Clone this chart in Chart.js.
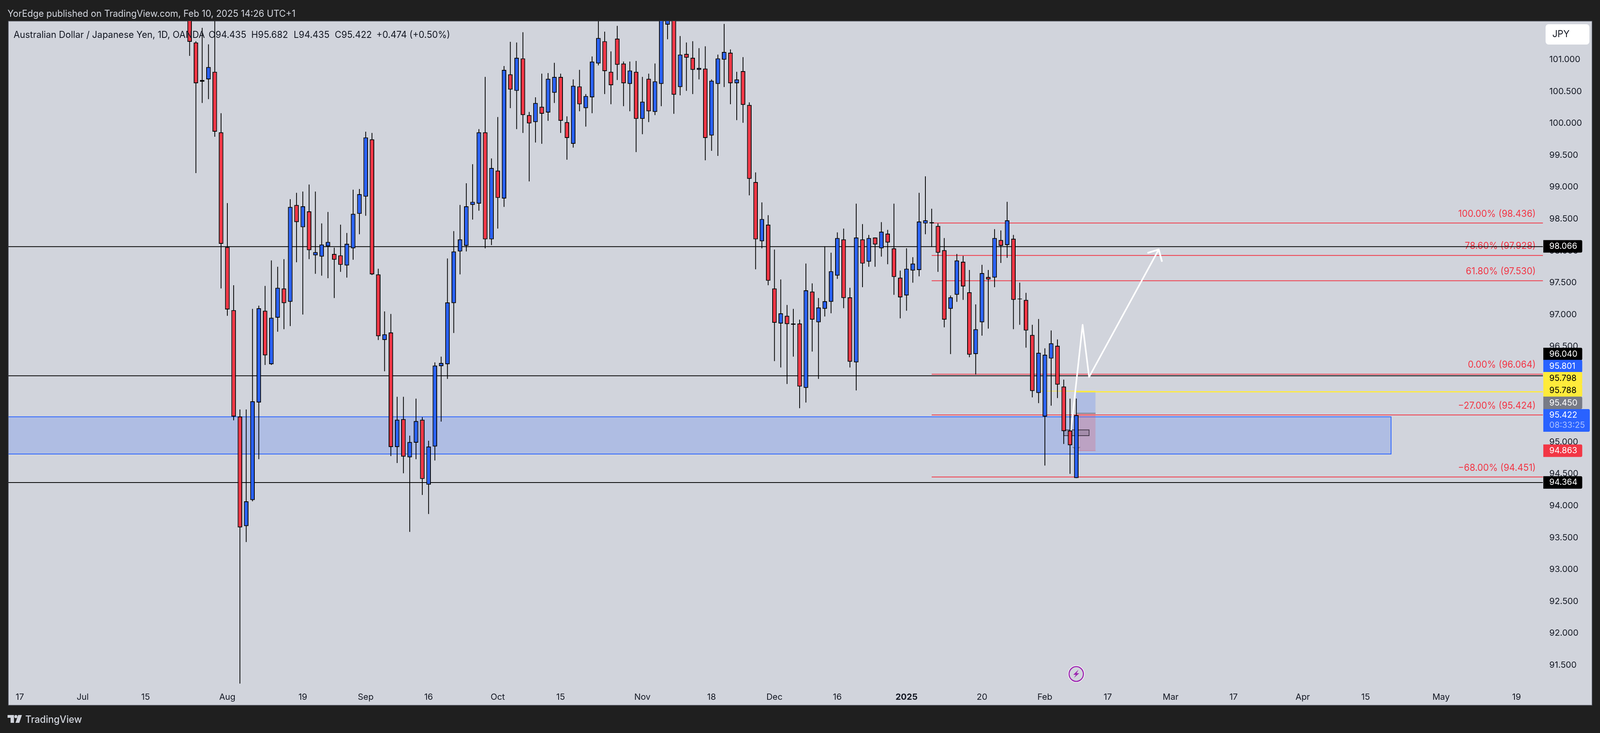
<!DOCTYPE html>
<html><head><meta charset="utf-8"><title>AUD/JPY</title>
<style>html,body{margin:0;padding:0;background:#1f1f1f;overflow:hidden}canvas{display:block}</style>
<script src="https://cdn.jsdelivr.net/npm/chart.js@4"></script>
</head><body><canvas id="c"></canvas>
<script>
const dates=["Jul 24","Jul 25","Jul 26","Jul 29","Jul 30","Jul 31",
"Aug 1","Aug 2","Aug 5","Aug 6","Aug 7","Aug 8","Aug 9","Aug 12","Aug 13","Aug 14","Aug 15","Aug 16","Aug 19","Aug 20","Aug 21","Aug 22","Aug 23","Aug 26","Aug 27","Aug 28","Aug 29","Aug 30",
"Sep 2","Sep 3","Sep 4","Sep 5","Sep 6","Sep 9","Sep 10","Sep 11","Sep 12","Sep 13","Sep 16","Sep 17","Sep 18","Sep 19","Sep 20","Sep 23","Sep 24","Sep 25","Sep 26","Sep 27","Sep 30",
"Oct 1","Oct 2","Oct 3","Oct 4","Oct 7","Oct 8","Oct 9","Oct 10","Oct 11","Oct 14","Oct 15","Oct 16","Oct 17","Oct 18","Oct 21","Oct 22","Oct 23","Oct 24","Oct 25","Oct 28","Oct 29","Oct 30","Oct 31",
"Nov 1","Nov 4","Nov 5","Nov 6","Nov 7","Nov 8","Nov 11","Nov 12","Nov 13","Nov 14","Nov 15","Nov 18","Nov 19","Nov 20","Nov 21","Nov 22","Nov 25","Nov 26","Nov 27","Nov 28","Nov 29",
"Dec 2","Dec 3","Dec 4","Dec 5","Dec 6","Dec 9","Dec 10","Dec 11","Dec 12","Dec 13","Dec 16","Dec 17","Dec 18","Dec 19","Dec 20","Dec 23","Dec 24","Dec 26","Dec 27","Dec 30","Dec 31",
"Jan 2","Jan 3","Jan 6","Jan 7","Jan 8","Jan 9","Jan 10","Jan 13","Jan 14","Jan 15","Jan 16","Jan 17","Jan 20","Jan 21","Jan 22","Jan 23","Jan 24","Jan 27","Jan 28","Jan 29","Jan 30","Jan 31",
"Feb 3","Feb 4","Feb 5","Feb 6","Feb 7","Feb 10"];
const opens=[101.95,101.27,100.655,100.69,100.81,99.86,98.06,97.07,95.40,93.68,94.09,95.62,97.06,96.22,96.95,97.41,97.20,98.72,98.37,98.62,
97.93,97.91,98.07,97.95,97.93,97.77,98.04,98.58,98.85,99.75,97.63,96.60,96.72,94.92,95.36,94.76,94.99,95.35,94.33,94.93,
96.19,96.22,97.18,97.99,98.08,98.72,98.74,99.86,98.18,99.26,98.82,100.77,100.51,101.02,100.13,100.02,100.26,100.17,100.48,100.73,
100.02,99.68,100.58,100.24,100.41,100.94,101.29,100.81,101.33,100.94,100.62,100.81,100.07,100.70,100.18,100.62,101.55,101.90,100.57,101.09,
101.03,100.84,100.86,99.81,100.62,101.00,101.11,100.63,100.82,100.29,99.08,98.15,98.41,97.41,96.86,96.98,96.84,96.86,95.85,97.36,
96.88,97.09,97.20,97.61,98.18,97.27,96.25,98.18,97.83,98.21,98.04,98.27,98.04,97.58,97.30,97.69,97.70,98.43,98.45,98.39,
98.01,97.09,97.31,97.83,97.35,96.38,96.88,97.59,97.58,98.17,98.09,98.19,97.24,97.23,96.68,95.77,95.40,96.31,96.51,95.87,95.18,94.435];
const highs=[102.20,101.29,101.50,101.24,101.75,100.16,98.75,97.46,95.51,95.51,97.09,97.14,97.45,97.85,97.75,97.87,98.81,98.91,98.93,99.04,
98.93,98.43,98.61,98.05,98.41,98.28,98.96,98.97,99.87,99.85,97.72,97.05,97.01,95.71,95.71,95.10,95.68,95.39,95.02,96.25,
96.34,97.88,98.31,98.72,99.06,99.36,99.91,100.73,99.45,100.10,100.90,101.28,101.27,101.43,100.18,100.41,100.78,100.79,100.95,100.78,
100.11,100.69,100.84,100.46,101.05,101.70,101.44,101.13,101.53,100.97,100.97,100.98,100.73,100.78,100.94,102.05,101.90,102.00,101.37,101.27,
101.29,101.18,101.21,100.69,101.08,101.56,101.16,100.81,101.04,100.33,99.23,98.76,98.56,98.02,97.55,97.15,97.09,96.92,97.80,97.49,
97.26,98.07,97.97,98.29,98.35,97.42,98.74,98.42,98.25,98.21,98.45,98.33,98.74,97.69,98.04,97.90,98.91,99.17,98.66,98.43,
98.20,97.30,97.95,97.92,97.70,97.16,97.78,97.70,98.34,98.32,98.77,98.25,97.50,97.34,96.84,96.93,96.47,96.75,96.61,95.98,95.68,95.682];
const lows=[101.06,99.22,100.32,100.38,99.79,97.41,96.98,95.34,91.21,93.43,94.07,94.73,96.21,96.21,96.73,96.77,96.82,97.82,97.00,97.87,
97.64,97.61,97.57,97.26,97.67,97.58,97.86,98.26,98.55,97.62,96.60,96.11,94.78,94.67,94.51,93.59,94.73,94.17,93.87,94.71,
95.32,95.99,96.71,97.63,97.99,98.49,98.63,98.04,98.09,98.35,98.69,100.24,99.91,99.85,99.09,99.70,99.68,100.04,100.32,99.85,
99.43,99.62,100.19,99.95,100.16,100.91,100.46,100.30,100.68,100.27,100.19,99.55,99.83,100.02,100.13,100.27,101.32,100.15,100.44,100.51,
100.46,100.69,99.42,99.57,99.49,100.57,100.30,100.05,100.01,98.87,97.71,98.04,97.46,96.27,96.17,95.91,96.34,95.53,95.62,96.42,
95.99,96.97,97.02,97.56,97.10,96.17,95.81,97.43,97.75,97.75,97.91,97.79,97.31,96.94,97.06,97.50,97.60,98.26,98.06,97.67,
96.80,96.38,97.20,97.23,96.33,96.06,96.67,96.78,97.43,97.81,97.89,96.77,96.84,96.48,95.70,95.61,94.63,95.57,95.69,94.97,94.50,94.435];
const closes=[101.28,100.63,100.68,100.884,99.87,98.11,97.08,95.40,93.66,94.07,95.64,97.10,96.36,96.95,97.42,97.18,98.69,98.45,98.70,98.01,
97.98,98.10,98.14,97.86,97.78,98.11,98.58,98.89,99.78,97.63,96.66,96.69,94.92,95.35,94.77,95.00,95.33,94.42,94.93,96.20,
96.24,97.19,97.99,98.18,98.70,98.77,99.86,98.18,99.30,98.83,100.84,100.53,101.03,100.13,100.00,100.32,100.15,100.70,100.73,100.04,
99.77,100.59,100.30,100.43,100.97,101.34,100.82,100.60,100.92,100.63,100.83,100.07,100.34,100.19,100.66,101.90,101.75,100.45,101.08,101.03,
100.84,100.87,99.77,100.67,101.02,101.12,100.63,100.69,100.29,99.13,98.18,98.50,97.53,96.87,97.02,96.85,96.86,95.87,97.38,96.92,
97.11,97.21,97.68,98.20,97.26,96.26,98.21,97.80,98.20,98.10,98.30,98.13,97.59,97.27,97.72,97.80,98.46,98.48,98.43,97.97,
96.92,97.27,97.85,97.44,96.37,96.77,97.65,97.55,98.20,98.08,98.48,97.23,97.25,96.75,95.80,96.40,96.37,96.55,95.90,95.17,94.95,95.422];
const yTicks=[91.5,92,92.5,93,93.5,94,94.5,95,95.5,96,96.5,97,97.5,98,98.5,99,99.5,100,100.5,101];
const tickSlots=[-27,-17,-7,6,18,28,38,49,59,72,83,93,103,114,126,136,146,156,166,177,187,199,211];
const tickLabels=["17","Jul","15","Aug","19","Sep","16","Oct","15","Nov","18","Dec","16","2025","20","Feb","17","Mar","17","Apr","15","May","19"];
const fibValues=[98.436,97.928,97.530,96.064,95.424,94.451];
const fibLabels=["100.00% (98.436)","78.60% (97.928)","61.80% (97.530)","0.00% (96.064)","\u221227.00% (95.424)","\u221268.00% (94.451)"];
const blackLevels=[98.066,96.040,94.364];
const zoneTop=95.396, zoneBottom=94.811;
const posTarget=95.798, posEntry=95.450, posStop=94.863, posNow=95.788;
const pathSlots=[140.16,142.0,143.03,154.1], pathValues=[95.19,96.84,96.02,98.02];
const headSlots=[152.42,154.1,154.6], headValues=[97.97,98.02,97.84];

const BLUE='#2962ff',RED='#f23645',BG='#d1d4dc',DARK='#1f1f1f',INK='#131722',YEL='#ffeb3b';
const FONT='Inter, "Noto Sans", sans-serif';
const SLOT_MIN=-28.83,SLOT_MAX=215.2,FIB_FROM=118,ZONE_TO=191.05,POS_FROM=140.95,POS_TO=144.06;

// The page fills the window; horizontal sizes are proportional to a 4234-wide layout.
const cv=document.getElementById('c');
const K=window.innerWidth/4234;
cv.width=window.innerWidth;cv.height=1876;

function line(points,color,width,order,extra){
  return Object.assign({type:'line',data:points,borderColor:color,borderWidth:width,pointRadius:0,fill:false,tension:0,order},extra||{});
}
function hl(a,b,v){return [{x:a,y:v},{x:b,y:v}];}
function box(a,b,top,bot,fillColor,order){
  return [
    line(hl(a,b,top),'rgba(0,0,0,0)',0,order,{fill:'+1',backgroundColor:fillColor}),
    line(hl(a,b,bot),'rgba(0,0,0,0)',0,order)
  ];
}
const datasets=[];
datasets.push(...box(SLOT_MIN,ZONE_TO,zoneTop,zoneBottom,'rgba(41,98,255,0.2)',20));
datasets.push(line([{x:SLOT_MIN,y:zoneTop},{x:ZONE_TO,y:zoneTop},{x:ZONE_TO,y:zoneBottom},{x:SLOT_MIN,y:zoneBottom}],BLUE,2,19));
datasets.push(...box(POS_FROM,POS_TO,posTarget,posEntry,'rgba(41,98,255,0.2)',18));
datasets.push(...box(POS_FROM,POS_TO,posEntry,posStop,'rgba(242,54,69,0.2)',18));
datasets.push(line(hl(POS_FROM,POS_TO,posEntry),'rgba(90,90,100,0.8)',2,17));
datasets.push(line(hl(POS_FROM,POS_TO,posStop),'rgba(242,54,69,0.35)',1.5,17));
fibValues.forEach(v=>datasets.push(line(hl(FIB_FROM,SLOT_MAX,v),RED,2,16)));
blackLevels.forEach(v=>datasets.push(line(hl(SLOT_MIN,SLOT_MAX,v),'#000',2,15)));
datasets.push(line(hl(134.7,POS_TO,posTarget),YEL,1.5,15));
datasets.push(line(hl(POS_FROM,SLOT_MAX,posNow),YEL,3,14));
datasets.push(...box(139,143.03,95.19,95.10,'rgba(90,80,100,0.25)',13));
datasets.push(line([{x:139,y:95.19},{x:143.03,y:95.19},{x:143.03,y:95.10},{x:139,y:95.10},{x:139,y:95.19}],'rgba(50,40,55,0.85)',2,12));
datasets.push(line([{x:140.4,y:94.92},{x:141,y:94.89},{x:141.6,y:94.92}],'rgba(90,90,100,0.7)',2,12));
datasets.push(line(pathSlots.map((s,i)=>({x:s,y:pathValues[i]})),'#fff',4,5,{borderCapStyle:'round',borderJoinStyle:'round'}));
datasets.push(line(headSlots.map((s,i)=>({x:s,y:headValues[i]})),'#fff',4.5,5,{borderCapStyle:'round',borderJoinStyle:'round'}));
datasets.push({type:'bar',label:'Wicks',order:2,data:dates.map((d,i)=>({x:i,y:[lows[i],highs[i]]})),
  backgroundColor:'#000',borderWidth:0,barThickness:2,grouped:false,inflateAmount:0});
datasets.push({type:'bar',label:'AUDJPY',order:1,data:dates.map((d,i)=>({x:i,y:[opens[i],closes[i]]})),
  backgroundColor:dates.map((d,i)=>closes[i]>=opens[i]?BLUE:RED),borderColor:'#000',borderWidth:2.2,borderSkipped:false,barThickness:12*K,grouped:false,inflateAmount:0});

function txt(ctx,s,x,y,font,color,align){
  ctx.font=font;ctx.fillStyle=color;ctx.textAlign=align||'left';ctx.textBaseline='middle';ctx.fillText(s,x,y);
}
const frame={
  id:'frame',
  beforeDraw(ch){
    const c=ch.ctx;c.save();c.scale(K,1);
    c.fillStyle=DARK;c.fillRect(0,0,4234,1876);
    c.fillStyle=BG;c.fillRect(22,54,4191,1751);
    c.strokeStyle='#50535e';c.lineWidth=1.5;c.strokeRect(22,54,4191,1751);
    c.restore();
  },
  beforeDatasetsDraw(ch){
    const c=ch.ctx,y=ch.scales.y;c.save();c.scale(K,1);
    fibValues.forEach((v,i)=>txt(c,fibLabels[i],4064,y.getPixelForValue(v)-23.5,'24px '+FONT,RED,'right'));
    c.restore();
  },
  afterDraw(ch){
    const c=ch.ctx;c.save();c.scale(K,1);
    txt(c,'YorEdge published on TradingView.com, Feb 10, 2025 14:26 UTC+1',20,35.5,'24px '+FONT,'#d1d4dc');
    const lg=[['Australian Dollar / Japanese Yen, 1D, OANDA',36],['O94.435',552],['H95.682',665],['L94.435',777],['C95.422',886],['+0.474 (+0.50%)',996]];
    lg.forEach(([s,x])=>txt(c,s,x,90,'24px '+FONT,INK));
    c.fillStyle='#fff';c.beginPath();c.roundRect(4090,62,116,52,8);c.fill();
    txt(c,'JPY',4108,88,'24px '+FONT,INK);
    const tags=[['98.066','#000','#fff',630.6],['96.040','#000','#fff',906],['95.801',BLUE,'#fff',937],['95.798',YEL,'#000',968],['95.788',YEL,'#000',999],['95.450','#787b86','#fff',1031],['94.863',RED,'#fff',1153.6],['94.364','#000','#fff',1234.7]];
    tags.forEach(([s,bg,fg,cy])=>{
      c.fillStyle=bg;c.beginPath();c.roundRect(4084,cy-16,103,32,[0,4,4,0]);c.fill();
      txt(c,s,4100,cy,'22px '+FONT,fg);
    });
    c.fillStyle=BLUE;c.beginPath();c.roundRect(4084,1047,123,58,[0,4,4,0]);c.fill();
    txt(c,'95.422',4100,1062,'22px '+FONT,'#fff');
    txt(c,'08:33:25',4100,1088,'22px '+FONT,'#a9c0ff');
    c.fillStyle='#fff';c.beginPath();c.arc(2848,1725,22,0,Math.PI*2);c.fill();
    c.fillStyle=BG;c.beginPath();c.arc(2848,1725,17.5,0,Math.PI*2);c.fill();
    c.strokeStyle='#9c27b0';c.lineWidth=3;c.beginPath();c.arc(2848,1725,19,0,Math.PI*2);c.stroke();
    c.fillStyle='#9c27b0';c.beginPath();
    [[2854,1714],[2840,1727],[2847,1727],[2842,1735],[2856,1723],[2849,1723]].forEach((p,i)=>i?c.lineTo(p[0],p[1]):c.moveTo(p[0],p[1]));
    c.closePath();c.fill();
    c.fillStyle='#d1d4dc';
    c.fillRect(20,1830,17,7);c.fillRect(28,1837,9,13);
    c.beginPath();c.arc(42,1834,4,0,Math.PI*2);c.fill();
    c.beginPath();c.moveTo(48,1830);c.lineTo(58,1830);c.lineTo(51,1850);c.lineTo(41,1850);c.closePath();c.fill();
    txt(c,'TradingView',67,1842,'500 25px '+FONT,'#d1d4dc');
    c.restore();
  }
};

new Chart(cv,{
  type:'bar',
  data:{datasets},
  plugins:[frame],
  options:{
    responsive:false,animation:false,devicePixelRatio:1,
    layout:{padding:{left:22*K,top:54,right:21*K,bottom:71}},
    plugins:{legend:{display:false},tooltip:{enabled:false},title:{display:false}},
    scales:{
      x:{type:'linear',offset:false,min:SLOT_MIN,max:SLOT_MAX,
        grid:{display:false,offset:false,drawTicks:false},border:{display:false},
        afterBuildTicks(s){s.ticks=tickSlots.map(v=>({value:v}));},
        afterFit(s){s.height=45;},
        ticks:{autoSkip:false,maxRotation:0,padding:11,color:INK,
          font:(ctx)=>({family:FONT,size:22,weight:(tickLabels[ctx.index]==='2025')?'bold':'normal'}),
          callback:(v,i)=>tickLabels[i]}},
      y:{type:'linear',position:'right',min:91.145,max:101.605,
        grid:{display:false,drawTicks:false},border:{display:false},
        afterBuildTicks(s){s.ticks=yTicks.map(v=>({value:v}));},
        afterFit(s){s.width=130*K;},
        ticks:{padding:17*K,color:INK,font:{family:FONT,size:22},callback:v=>Number(v).toFixed(3)}}
    }
  }
});
</script></body></html>
